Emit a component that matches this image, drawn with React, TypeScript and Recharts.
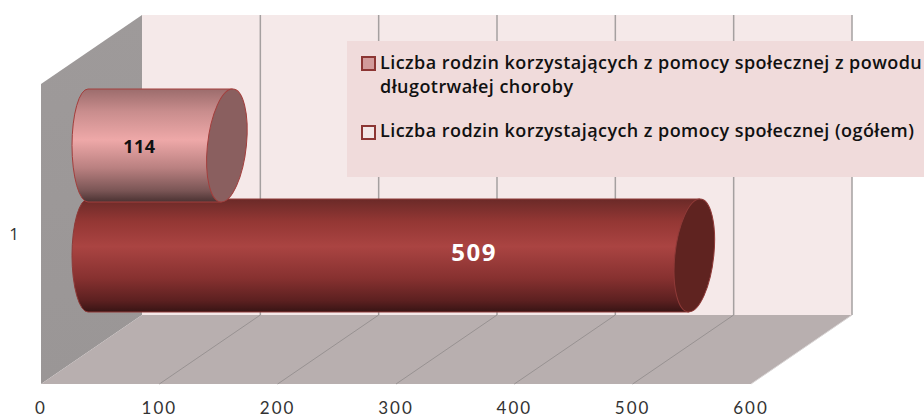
import React from "react";
import { BarChart, Bar, XAxis, YAxis, Legend, LabelList, Customized } from "recharts";

const categories = ["1"];
const illnessValues = [114];
const totalValues = [509];
const xTicks = [0, 100, 200, 300, 400, 500, 600];
const illnessName = "Liczba rodzin korzystających z pomocy społecznej z powodu długotrwałej choroby";
const totalName = "Liczba rodzin korzystających z pomocy społecznej (ogółem)";

const data = categories.map((name, i) => ({ name, illness: illnessValues[i], total: totalValues[i] }));

const W = 924, H = 418;
const FONT = "'Open Sans', Lato, sans-serif";
const TICK_FONT = "Lato, 'Open Sans', sans-serif";
const DEPTH_X = 101, DEPTH_Y = 69;
const PLOT = { x: 41, y: 84, w: 710, h: 300 };

function Walls() {
  const { x, y, w, h } = PLOT;
  const b = y + h;
  const step = w / (xTicks.length - 1);
  return (
    <g>
      <defs>
        <linearGradient id="gPink" x1="0" y1="0" x2="0" y2="1">
          <stop offset="0" stopColor="#9c6c6c" />
          <stop offset="0.2" stopColor="#c98d8d" />
          <stop offset="0.45" stopColor="#eea8a8" />
          <stop offset="0.7" stopColor="#b98080" />
          <stop offset="0.9" stopColor="#7a5555" />
          <stop offset="1" stopColor="#4a3232" />
        </linearGradient>
        <linearGradient id="gDark" x1="0" y1="0" x2="0" y2="1">
          <stop offset="0" stopColor="#6b2a28" />
          <stop offset="0.2" stopColor="#943734" />
          <stop offset="0.42" stopColor="#aa4442" />
          <stop offset="0.7" stopColor="#873130" />
          <stop offset="0.9" stopColor="#5c2020" />
          <stop offset="1" stopColor="#371414" />
        </linearGradient>
        <linearGradient id="gWall" x1="0" y1="0" x2="0" y2="1">
          <stop offset="0" stopColor="#9e9a9a" />
          <stop offset="1" stopColor="#9a9696" />
        </linearGradient>
      </defs>
      <polygon points={`${x + DEPTH_X},${y - DEPTH_Y} ${x + w + DEPTH_X},${y - DEPTH_Y} ${x + w + DEPTH_X},${b - DEPTH_Y} ${x + DEPTH_X},${b - DEPTH_Y}`} fill="#f5e9e9" />
      <polygon points={`${x},${y} ${x + DEPTH_X},${y - DEPTH_Y} ${x + DEPTH_X},${b - DEPTH_Y} ${x},${b}`} fill="url(#gWall)" />
      <polygon points={`${x},${b} ${x + DEPTH_X},${b - DEPTH_Y} ${x + w + DEPTH_X},${b - DEPTH_Y} ${x + w},${b}`} fill="#b8afaf" />
      {xTicks.slice(1).map((t, i) => {
        const px = x + step * (i + 1);
        return (
          <g key={t}>
            <line x1={px + DEPTH_X} y1={y - DEPTH_Y} x2={px + DEPTH_X} y2={b - DEPTH_Y} stroke="#a5a0a0" strokeWidth={1.5} />
            <line x1={px} y1={b} x2={px + DEPTH_X} y2={b - DEPTH_Y} stroke={i === 5 ? "#d8d4d4" : "#989292"} strokeWidth={1} />
          </g>
        );
      })}
    </g>
  );
}

function cylinder(fill: string, capFill: string, stroke: string) {
  return (props: any) => {
    const { x, y, width, height } = props;
    const ox = 50, oy = -34;
    const x0 = x + ox, x1 = x + width + ox + 1;
    const top = y + oy, bot = y + height + oy;
    const cy = (top + bot) / 2;
    const ry = height / 2;
    const rx = 19.5;
    const sk = 5.6;
    return (
      <g>
        <path
          d={`M${x0 - 3},${top} A16,${ry} 0 0 0 ${x0 - 3},${bot} L${x1 - sk},${bot} L${x1 + sk},${top} Z`}
          fill={fill}
          stroke={stroke}
          strokeWidth={1}
        />
        <ellipse
          cx={0}
          cy={0}
          rx={rx}
          ry={ry}
          transform={`translate(${x1},${cy}) skewX(-5.7)`}
          fill={capFill}
          stroke={stroke}
          strokeWidth={1}
        />
      </g>
    );
  };
}

function LegendBox() {
  const textStyle: React.CSSProperties = { position: "absolute", left: 33, color: "#111", fontSize: 18, lineHeight: "24px", fontWeight: 600, whiteSpace: "nowrap", letterSpacing: 0.44, fontFamily: FONT };
  const sw = (top: number, bg: string): React.CSSProperties => ({ position: "absolute", left: 14, top, width: 11, height: 11, background: bg, border: "2px solid #8c3533", boxSizing: "content-box" });
  return (
    <div style={{ position: "relative", width: 577, height: 136, background: "#f0dbdb" }}>
      <div style={sw(15, "#d29a9a")} />
      <div style={{ ...textStyle, top: 9 }}>
        Liczba rodzin korzystających z pomocy społecznej z powodu<br />długotrwałej choroby
      </div>
      <div style={sw(84, "#f3e6e6")} />
      <div style={{ ...textStyle, top: 77 }}>{totalName}</div>
    </div>
  );
}

export default function App() {
  return (
    <div style={{ position: "absolute", left: 0, top: 0, width: W, height: H }}>
      <BarChart
        width={W}
        height={H}
        data={data}
        layout="vertical"
        margin={{ top: PLOT.y, right: W - PLOT.x - PLOT.w, bottom: 0, left: 0 }}
        barSize={113}
        barGap={-3}
      >
        <Customized component={Walls} />
        <XAxis type="number" domain={[0, 600]} ticks={xTicks} height={34} axisLine={false} tickLine={false} tickMargin={12} tick={{ fill: "#333", fontSize: 17, letterSpacing: 2, fontFamily: TICK_FONT }} interval={0} />
        <YAxis type="category" dataKey="name" width={41} axisLine={false} tickLine={false} tickMargin={16} tick={{ fill: "#333", fontSize: 17, fontFamily: FONT }} />
        <Legend
          layout="horizontal"
          verticalAlign="middle"
          align="center"
          wrapperStyle={{ position: "absolute", left: 347, top: 41, width: 577, height: 136, margin: 0 }}
          content={() => <LegendBox />}
        />
        <Bar dataKey="illness" name={illnessName} isAnimationActive={false} zIndex={320} shape={cylinder("url(#gPink)", "#8a5f5f", "#a33e3c")}>
          <LabelList dataKey="illness" position="center" dx={31} dy={-33} fill="#111" fontSize={18} fontWeight={700} fontFamily={FONT} letterSpacing={0.5} zIndex={400} />
        </Bar>
        <Bar dataKey="total" name={totalName} isAnimationActive={false} zIndex={300} shape={cylinder("url(#gDark)", "#5f2320", "#8f3a38")}>
          <LabelList dataKey="total" position="center" dx={132} dy={-37} fill="#fff" fontSize={24} fontWeight={700} fontFamily={FONT} letterSpacing={1.5} zIndex={400} />
        </Bar>
      </BarChart>
    </div>
  );
}
